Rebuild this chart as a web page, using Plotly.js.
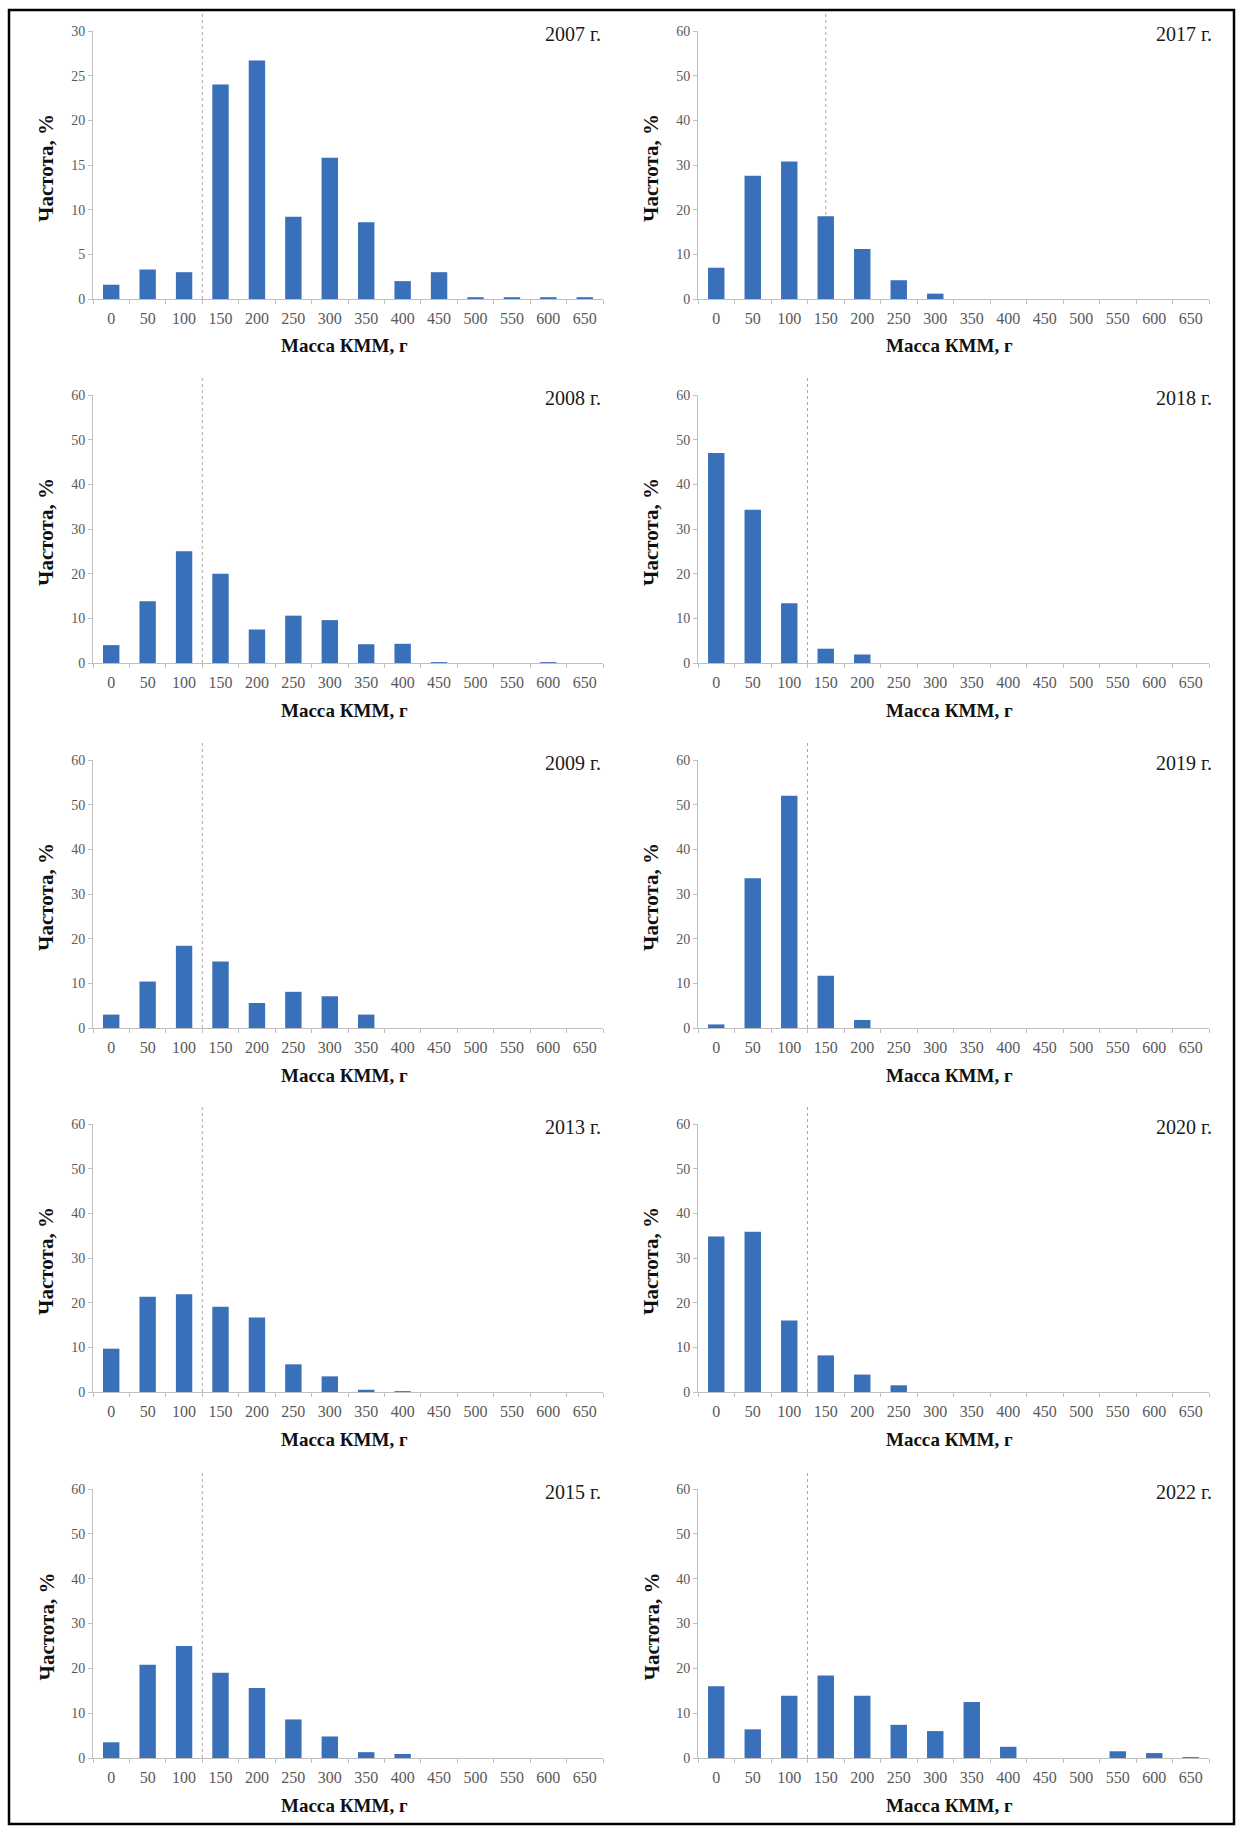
<!DOCTYPE html>
<html><head><meta charset="utf-8">
<script src="https://cdn.plot.ly/plotly-3.0.1.min.js"></script>
<style>html,body{margin:0;padding:0;background:#fff}</style>
</head><body>
<div id="chart" style="width:1241px;height:1831px"></div>
<script>
// ---- data ----
const massBins = ['0','50','100','150','200','250','300','350','400','450','500','550','600','650'];
const panelYears = ['2007 г.','2017 г.','2008 г.','2018 г.','2009 г.','2019 г.','2013 г.','2020 г.','2015 г.','2022 г.'];
const freq2007 = [1.6, 3.3, 3.0, 24.0, 26.7, 9.2, 15.8, 8.6, 2.0, 3.0, 0.2, 0.2, 0.2, 0.2];
const freq2017 = [7.0, 27.6, 30.8, 18.5, 11.2, 4.2, 1.2, 0, 0, 0, 0, 0, 0, 0];
const freq2008 = [4.0, 13.8, 25.0, 20.0, 7.5, 10.6, 9.6, 4.2, 4.3, 0.2, 0, 0, 0.2, 0];
const freq2018 = [47.0, 34.3, 13.4, 3.2, 1.9, 0, 0, 0, 0, 0, 0, 0, 0, 0];
const freq2009 = [3.0, 10.4, 18.4, 14.9, 5.6, 8.1, 7.1, 3.0, 0, 0, 0, 0, 0, 0];
const freq2019 = [0.8, 33.5, 52.0, 11.7, 1.8, 0, 0, 0, 0, 0, 0, 0, 0, 0];
const freq2013 = [9.7, 21.3, 21.9, 19.1, 16.7, 6.2, 3.5, 0.5, 0.2, 0, 0, 0, 0, 0];
const freq2020 = [34.8, 35.9, 16.0, 8.2, 3.9, 1.5, 0, 0, 0, 0, 0, 0, 0, 0];
const freq2015 = [3.5, 20.8, 25.0, 19.0, 15.6, 8.6, 4.8, 1.3, 0.9, 0, 0, 0, 0, 0];
const freq2022 = [16.0, 6.4, 13.9, 18.4, 13.9, 7.4, 6.0, 12.5, 2.5, 0, 0, 1.5, 1.1, 0.2];
const panelFreqs = [freq2007, freq2017, freq2008, freq2018, freq2009, freq2019, freq2013, freq2020, freq2015, freq2022];
const cutoffMass = [125, 150, 125, 125, 125, 125, 125, 125, 125, 125];
const yMaxes = [30, 60, 60, 60, 60, 60, 60, 60, 60, 60];
const yDticks = [5, 10, 10, 10, 10, 10, 10, 10, 10, 10];
const xTitle = 'Масса КММ, г';
const yTitle = 'Частота, %';

// ---- layout geometry (px) ----
const W = 1241, H = 1831;
const FONT = 'Liberation Serif, Times New Roman, serif';
const colX = [[93, 603], [698, 1209]];
const rowY = [[31, 299], [395, 663], [760, 1028], [1124, 1392], [1489, 1758]];
const yearRight = [603, 1214];
const yTitleX = [46, 651];
const px = v => v / W;
const py = v => 1 - v / H;

const traces = [];
const layout = {
  width: W, height: H,
  margin: {l: 0, r: 0, t: 0, b: 0},
  paper_bgcolor: '#fff', plot_bgcolor: 'rgba(0,0,0,0)',
  showlegend: false,
  bargap: 0.55,
  font: {family: FONT, color: '#000'},
  annotations: [], shapes: []
};

for (let i = 0; i < panelFreqs.length; i++) {
  const row = Math.floor(i / 2), col = i % 2, n = i + 1;
  const xk = n === 1 ? 'xaxis' : 'xaxis' + n;
  const yk = n === 1 ? 'yaxis' : 'yaxis' + n;
  const xr = n === 1 ? 'x' : 'x' + n;
  const yr = n === 1 ? 'y' : 'y' + n;
  const [x0, x1] = colX[col];
  const [yTop, yBot] = rowY[row];

  traces.push({
    type: 'bar', x: massBins, y: panelFreqs[i], xaxis: xr, yaxis: yr,
    marker: {color: '#3a6fb9', line: {width: 0}},
    hoverinfo: 'x+y'
  });

  layout[xk] = {
    domain: [px(x0), px(x1)], anchor: yr,
    type: 'category', categoryorder: 'array', categoryarray: massBins,
    range: [-0.5, massBins.length - 0.5],
    showline: true, linecolor: '#bfbfbf', linewidth: 1,
    ticks: 'outside', tickson: 'boundaries', ticklen: 4, tickcolor: '#bfbfbf',
    tickfont: {family: FONT, size: 16, color: '#595959'},
    ticklabelstandoff: 5,
    showgrid: false, zeroline: false, fixedrange: true
  };
  layout[yk] = {
    domain: [py(yBot), py(yTop)], anchor: xr,
    range: [0, yMaxes[i]], tick0: 0, dtick: yDticks[i],
    showline: true, linecolor: '#bfbfbf', linewidth: 1,
    ticks: 'outside', ticklen: 4, tickcolor: '#bfbfbf',
    tickfont: {family: FONT, size: 14, color: '#595959'},
    showgrid: false, zeroline: false, fixedrange: true
  };

  // year label
  layout.annotations.push({
    xref: 'paper', yref: 'paper', x: px(yearRight[col]), y: py(yTop + 3),
    xanchor: 'right', yanchor: 'middle', showarrow: false,
    text: panelYears[i], font: {family: FONT, size: 20, color: '#1a1a1a'}
  });
  // x title
  layout.annotations.push({
    xref: 'paper', yref: 'paper', x: px((x0 + x1) / 2 - 4), y: py(yBot + 47),
    xanchor: 'center', yanchor: 'middle', showarrow: false,
    text: '<b>' + xTitle + '</b>', font: {family: FONT, size: 19, color: '#111'}
  });
  // y title
  layout.annotations.push({
    xref: 'paper', yref: 'paper', x: px(yTitleX[col]), y: py((yTop + yBot) / 2 + 3),
    xanchor: 'center', yanchor: 'middle', showarrow: false, textangle: -90,
    text: '<b>' + yTitle + '</b>', font: {family: FONT, size: 21, color: '#111'}
  });
  // dotted cutoff line
  const cIdx = cutoffMass[i] / 50;
  layout.shapes.push({
    type: 'line', xref: xr, yref: 'paper', x0: cIdx, x1: cIdx,
    y0: py(yBot), y1: py(yTop - 18), layer: 'below',
    line: {color: '#a8a8a8', width: 1, dash: 'dot'}
  });
}

// outer frame
layout.shapes.push({
  type: 'rect', xref: 'paper', yref: 'paper',
  x0: px(9), x1: px(1234), y0: py(1824), y1: py(10),
  line: {color: '#000', width: 2.5}, fillcolor: 'rgba(0,0,0,0)'
});

Plotly.newPlot('chart', traces, layout, {staticPlot: true, displayModeBar: false});
</script>
</body></html>
